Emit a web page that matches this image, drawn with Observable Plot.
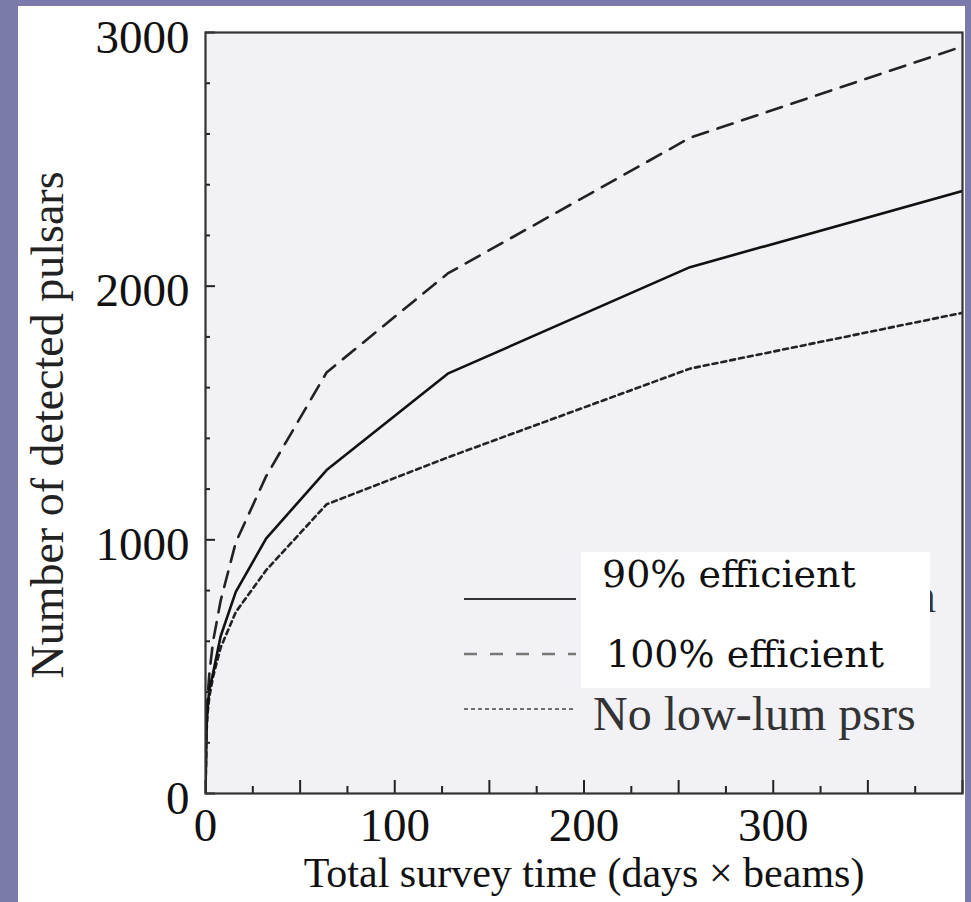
<!DOCTYPE html>
<html>
<head>
<meta charset="utf-8">
<script src="https://cdn.jsdelivr.net/npm/d3@7"></script>
<script src="https://cdn.jsdelivr.net/npm/@observablehq/plot@0.6"></script>
<style>
  html, body { margin: 0; padding: 0; background: #7b7bab; }
  #page { position: relative; width: 971px; height: 902px; overflow: hidden; background: #7b7bab; }
  #panel { position: absolute; left: 18px; top: 6px; width: 947px; height: 896px; background: #ffffff; }
  #chart { position: absolute; left: 0; top: 0; }
  #overlay { position: absolute; left: 0; top: 0; pointer-events: none; }
</style>
</head>
<body>
<div id="page">
  <div id="panel"><div id="chart"></div></div>
  <svg id="overlay" width="971" height="902"></svg>
</div>
<script>
// ---- data ----
const surveyTime = [0, 0.5, 1, 2, 4, 8, 16, 32, 64, 128, 256, 400];
const eff90  = [0, 250, 330, 410, 475, 620, 795, 1005, 1275, 1655, 2075, 2375];
const eff100 = [0, 270, 370, 470, 600, 760, 990, 1250, 1660, 2050, 2585, 2945];
const noLowLum = [0, 230, 310, 380, 460, 575, 715, 880, 1140, 1325, 1675, 1895];
const seriesNames = ["90% efficient", "100% efficient", "No low-lum psrs"];
const xTickLabels = [0, 100, 200, 300];
const xMajorTicks = [0, 50, 100, 150, 200, 250, 300, 350, 400];
const xMinorTicks = [25, 75, 125, 175, 225, 275, 325, 375];
const yTickLabels = [0, 1000, 2000, 3000];
const yMajorTicks = [0, 1000, 2000, 3000];
const yMinorTicks = [200, 400, 600, 800, 1200, 1400, 1600, 1800, 2200, 2400, 2600, 2800];
const xTitle = "Total survey time (days \u00d7 beams)";
const yTitle = "Number of detected pulsars";
const coveredLabelTail = "n";

const rows = (vals, name) => surveyTime.map((t, i) => ({t, n: vals[i], series: name}));
const d90 = rows(eff90, seriesNames[0]);
const d100 = rows(eff100, seriesNames[1]);
const dLow = rows(noLowLum, seriesNames[2]);

const W = 947, H = 896, mL = 187, mT = 26, mR = 3, mB = 109;
const plotW = W - mL - mR, plotH = H - mT - mB;
const serif = "Liberation Serif, Times New Roman, serif";

const chart = Plot.plot({
  width: W, height: H,
  marginLeft: mL, marginTop: mT, marginRight: mR, marginBottom: mB,
  x: {domain: [0, 400]},
  y: {domain: [0, 3000]},
  style: {background: "transparent", fontFamily: serif, color: "#111"},
  marks: [
    Plot.frame({fill: "#f2f2f6", stroke: null}),
    Plot.line(dLow, {x: "t", y: "n", stroke: "#222", strokeWidth: 2.6, strokeDasharray: "5,4", clip: true}),
    Plot.line(d100, {x: "t", y: "n", stroke: "#222", strokeWidth: 2.6, strokeDasharray: "16,10", clip: true}),
    Plot.line(d90, {x: "t", y: "n", stroke: "#111", strokeWidth: 2.6, clip: true}),
    Plot.tickX(xMinorTicks, {x: d => d, insetTop: plotH - 7, stroke: "#222", strokeWidth: 2}),
    Plot.tickX(xMajorTicks, {x: d => d, insetTop: plotH - 13, stroke: "#222", strokeWidth: 2}),
    Plot.tickY(yMinorTicks, {y: d => d, insetRight: plotW - 5, stroke: "#222", strokeWidth: 2}),
    Plot.tickY(yMajorTicks, {y: d => d, insetRight: plotW - 10, stroke: "#222", strokeWidth: 2}),
    Plot.axisX({ticks: xTickLabels, tickFormat: d3.format("d"), tickSize: 0, tickPadding: 14, fontSize: 47, label: null, fill: "#111"}),
    Plot.axisY({ticks: yTickLabels, tickFormat: d3.format("d"), tickSize: 0, tickPadding: 16, fontSize: 47, dy: 5, label: null, fill: "#111"}),
    Plot.text([xTitle], {text: d => d, frameAnchor: "bottom", dy: 93, fontSize: 42, fill: "#111"}),
    Plot.frame({stroke: "#333", strokeWidth: 2.2})
  ]
});
document.getElementById("chart").appendChild(chart);

// ---- overlay (page coordinates) ----
const ov = d3.select("#overlay");
ov.append("text")
  .attr("transform", "translate(63,425) rotate(-90)")
  .attr("text-anchor", "middle")
  .attr("font-family", serif).attr("font-size", 46).attr("fill", "#222")
  .text(yTitle);

const legendStyles = [
  {stroke: "#333", width: 2, dash: null},
  {stroke: "#777", width: 2.5, dash: "13,13"},
  {stroke: "#444", width: 1.6, dash: "4,3"}
];
const legendY = [599, 654, 709];
legendStyles.forEach((s, i) => {
  ov.append("line").attr("x1", 464).attr("x2", 576)
    .attr("y1", legendY[i]).attr("y2", legendY[i])
    .attr("stroke", s.stroke).attr("stroke-width", s.width)
    .attr("stroke-dasharray", s.dash);
});
ov.append("text").attr("x", 593).attr("y", 730)
  .attr("font-family", serif).attr("font-size", 48).attr("fill", "#333")
  .text(seriesNames[2]);
ov.append("text").attr("x", 936).attr("y", 612).attr("text-anchor", "end")
  .attr("font-family", serif).attr("font-size", 48).attr("fill", "#333")
  .text(coveredLabelTail);
// white patch with replacement labels
ov.append("rect").attr("x", 581).attr("y", 552).attr("width", 349).attr("height", 136).attr("fill", "#ffffff");
ov.append("text").attr("x", 602).attr("y", 587)
  .attr("font-family", "DejaVu Serif, serif").attr("font-size", 38).attr("fill", "#111")
  .text(seriesNames[0]);
ov.append("text").attr("x", 606).attr("y", 667)
  .attr("font-family", "DejaVu Serif, serif").attr("font-size", 38).attr("fill", "#111")
  .text(seriesNames[1]);
</script>
</body>
</html>
